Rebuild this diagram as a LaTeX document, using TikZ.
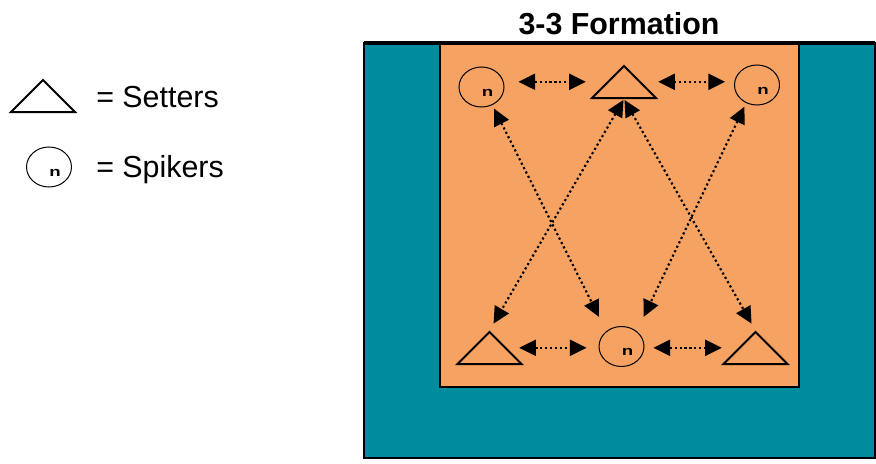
\documentclass[tikz,border=0pt]{standalone}
\usepackage{fontspec}
\setmainfont{Liberation Sans}
\usepackage{tikz}
\usetikzlibrary{arrows.meta,calc,shapes.geometric}
\definecolor{courtteal}{RGB}{0,140,157}
\definecolor{courtorange}{RGB}{246,162,98}
\tikzset{
  setter/.style ={isosceles triangle,isosceles triangle apex angle=90,
                  shape border rotate=90,draw,line width=1.5pt,
                  minimum size=24pt,inner sep=0pt,anchor=lower side},
  spiker/.style ={ellipse,draw,line width=0.75pt,minimum width=33.75pt,
                  minimum height=30pt,inner sep=0pt},
  glyph/.style  ={inner sep=0pt,font=\fontsize{10}{10}\selectfont\bfseries},
  lbl/.style    ={inner sep=0pt,anchor=base west,font=\fontsize{22.8}{24}\selectfont},
  ttl/.style    ={inner sep=0pt,anchor=base,font=\fontsize{22.8}{24}\selectfont\bfseries},
  link/.style   ={{Triangle[length=12.5pt,width=12pt]}-{Triangle[length=12.5pt,width=12pt]},
                  line width=1.6pt,dash pattern=on 1.6pt off 2.1pt},
}
\newcommand{\spk}{\scalebox{1.4}[1]{n}}

\begin{document}
\begin{tikzpicture}[x=0.75pt,y=-0.75pt]
\useasboundingbox (0,0) rectangle (876,464);
% court
\draw[fill=courtteal,line width=1.5pt] (364,43) rectangle (874.5,457.5);
\draw[fill=courtorange,line width=1.1pt] (440,43) rectangle (799,387);
\draw[line width=3.4pt] (364,43) -- (874.5,43);
\node[ttl] (title) at (619,34) {3-3 Formation};
% legend
\node[setter] (LSet) at (43,113) {};
\node[lbl] (LSetT) at (96,107.5) {= Setters};
\node[spiker] (LSpk) at (49,167) {};
\node[glyph] (LSpkn) at ($(LSpk)+(6,5.5)$) {\spk};
\node[lbl] (LSpkT) at (96,177) {= Spikers};
% players
\node[spiker] (TL) at (481.5,87) {};
\node[setter] (T) at (624,99) {};
\node[spiker] (TR) at (757,85) {};
\node[setter] (BL) at (489.5,365) {};
\node[spiker] (B) at (621.5,346.5) {};
\node[setter] (BR) at (755.5,365) {};
\node[glyph] (TLn) at ($(TL)+(6,5.5)$) {\spk};
\node[glyph] (TRn) at ($(TR)+(6,5.5)$) {\spk};
\node[glyph] (Bn) at ($(B)+(6,5.5)$) {\spk};
% passes
\draw[link,shorten <=10.5pt,shorten >=15.75pt] (TL.east |- T.left side) -- (T.left side);
\draw[link,shorten <=12.75pt,shorten >=6.75pt] (T.right side) -- (T.right side -| TR.west);
\draw[link,shorten <=9.4pt,shorten >=9pt] (BL.right side) -- (BL.right side -| B.west);
\draw[link,shorten <=6.75pt,shorten >=12.4pt] (B.east |- BR.left side) -- (BR.left side);
\draw[link,shorten <=3pt,shorten >=12pt] (TL.-59) -- (B.135);
\draw[link,shorten <=0.75pt,shorten >=6pt] (T.lower side) -- (BL.apex);
\draw[link,shorten <=0.75pt,shorten >=6pt] (T.lower side) -- (BR.apex);
\draw[link,shorten <=3pt,shorten >=12pt] (TR.-121) -- (B.45);
\end{tikzpicture}
\end{document}
